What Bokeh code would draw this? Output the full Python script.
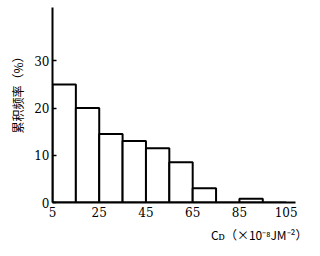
from bokeh.plotting import figure
from bokeh.models import Title, FixedTicker, ColumnDataSource
from bokeh.embed import file_html
from bokeh.resources import INLINE

# data
bin_left = [5, 15, 25, 35, 45, 55, 65, 75, 85, 95]
bin_right = [15, 25, 35, 45, 55, 65, 75, 85, 95, 105]
freq = [25, 20, 14.5, 13, 11.5, 8.5, 3, 0, 0.8, 0]
x_ticks = [5, 25, 45, 65, 85, 105]
y_ticks = [0, 10, 20, 30]
y_label = "累积频率（%）"
x_label = "Cᴅ（×10⁻⁸JM⁻²）"

p = figure(width=312, height=248, output_backend="svg", toolbar_location=None,
           x_range=(5, 109), y_range=(0, 41.3),
           min_border_left=52, min_border_right=17, min_border_top=7, min_border_bottom=46)
p.outline_line_color = None
p.xgrid.visible = False
p.ygrid.visible = False
p.background_fill_color = "white"

src = ColumnDataSource(dict(left=bin_left, right=bin_right, top=freq, bottom=[0] * len(freq)))
p.quad(left="left", right="right", top="top", bottom="bottom", source=src,
       fill_color="white", line_color="black", line_width=2)

for ax in (p.xaxis[0], p.yaxis[0]):
    ax.axis_line_width = 2
    ax.axis_line_color = "black"
    ax.minor_tick_line_color = None
    ax.major_label_text_font = "DejaVu Serif"
    ax.major_label_text_font_size = "12px"
    ax.major_label_text_color = "black"
    ax.major_tick_line_width = 1.5

p.xaxis.ticker = FixedTicker(ticks=x_ticks)
p.yaxis.ticker = FixedTicker(ticks=y_ticks)
p.xaxis.major_tick_in = 0
p.xaxis.major_tick_out = 0
p.xaxis.major_label_standoff = 4
p.yaxis.major_tick_in = 4
p.yaxis.major_tick_out = 0
p.yaxis.major_label_standoff = 3

p.add_layout(Title(text=y_label, align="right", offset=43, standoff=12,
                   text_font="Noto Sans CJK SC", text_font_size="12px",
                   text_font_style="normal", text_color="black"), "left")
p.add_layout(Title(text=x_label, align="right", offset=-12, standoff=8,
                   text_font="Noto Sans CJK SC", text_font_size="12px",
                   text_font_style="normal", text_color="black"), "below")

open("out.html", "w").write(file_html(p, INLINE))
